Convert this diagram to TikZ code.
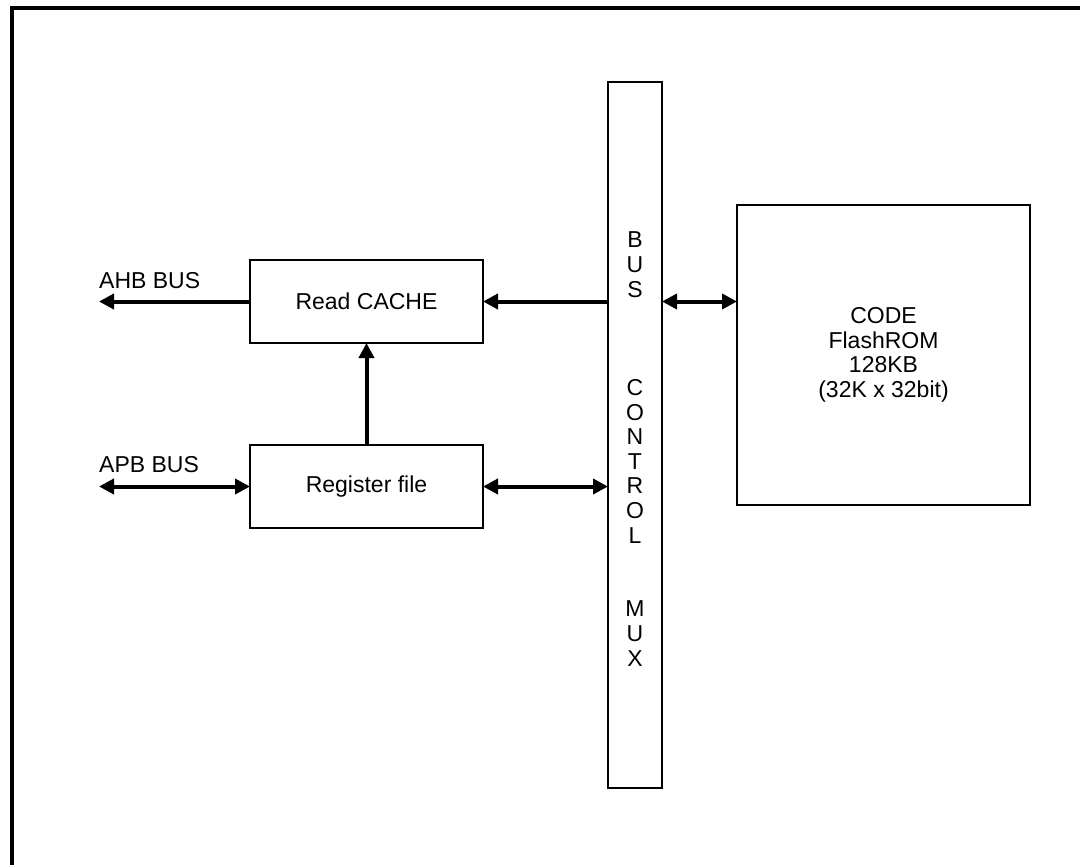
\documentclass[tikz,border=0pt]{standalone}
\usepackage{fontspec}
\setmainfont{Liberation Sans}
\usetikzlibrary{arrows.meta}
\begin{document}
\begin{tikzpicture}[x=1pt,y=-1pt,
  box/.style={draw,line width=2.6pt,inner sep=0pt,outer sep=0pt,font=\fontsize{23}{24.5}\selectfont},
  conn/.style={line width=4pt,-{Triangle[length=15pt,width=15pt]}},
  bidir/.style={line width=4pt,{Triangle[length=15pt,width=15pt]}-{Triangle[length=15pt,width=15pt]}},
  lbl/.style={inner sep=0pt,font=\fontsize{23}{24.5}\selectfont}]
\useasboundingbox (0,0) rectangle (1080,865);
\begin{scope}
\clip (0,0) rectangle (1080,865);
\draw[line width=3.5pt] (12,900) -- (12,8) -- (1100,8);
\end{scope}
\node[box,minimum width=233pt,minimum height=83pt] (cache) at (366.5,301.5) {Read CACHE};
\node[box,minimum width=233pt,minimum height=83pt] (reg) at (366.5,486.5) {Register file};
\node[box,minimum width=54pt,minimum height=706pt] (bus) at (635,435) {};
\node[box,minimum width=293pt,minimum height=300pt,align=center] (flash) at (883.5,355) {CODE\\FlashROM\\128KB\\(32K x 32bit)};
\node[lbl,align=center,font=\fontsize{23}{24.6}\selectfont] (bustext) at (635,449) {B\\U\\S\\[73.8pt]C\\O\\N\\T\\R\\O\\L\\[49.2pt]M\\U\\X};
\coordinate (ahb) at (99,301.5);
\coordinate (apb) at (99,486.5);
\node[lbl,anchor=base west] (ahblbl) at (99,288) {AHB BUS};
\node[lbl,anchor=base west] (apblbl) at (99,472) {APB BUS};
\draw[conn] (cache.west) -- (ahb);
\draw[conn] (bus.west |- cache.east) -- (cache.east);
\draw[bidir] (bus.east |- cache.east) -- (flash.west |- cache.east);
\draw[conn] (reg.north) -- (cache.south);
\draw[bidir] (reg.east) -- (bus.west |- reg.east);
\draw[bidir] (apb) -- (reg.west);
\end{tikzpicture}
\end{document}
